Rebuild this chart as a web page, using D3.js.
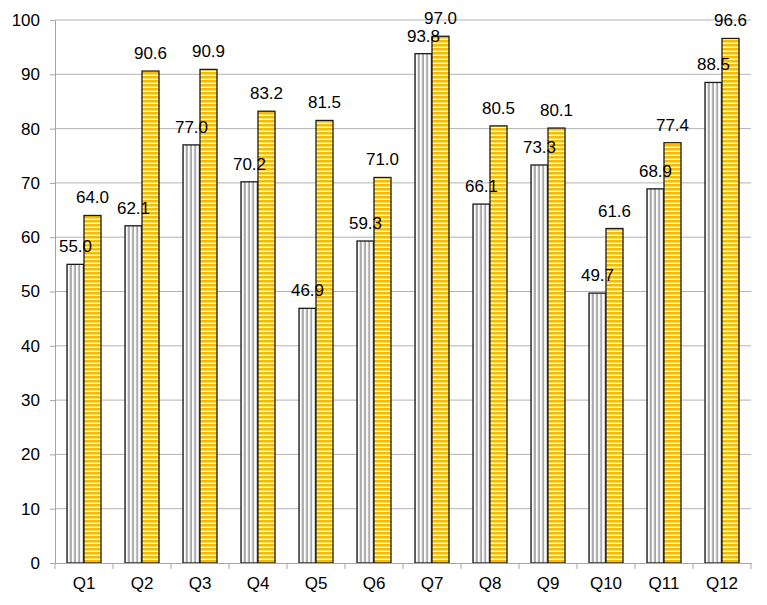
<!DOCTYPE html>
<html><head><meta charset="utf-8">
<script src="https://cdn.jsdelivr.net/npm/d3@7"></script>
<style>
body{margin:0;background:#fff;}
text{font-family:"Liberation Sans Narrow","Liberation Sans",Arial,sans-serif;fill:#000;}
</style></head>
<body>
<svg id="chart" width="767" height="605"></svg>
<script>
const categories = ["Q1","Q2","Q3","Q4","Q5","Q6","Q7","Q8","Q9","Q10","Q11","Q12"];
const seriesNames = ["A","B"];
const seriesA = [55.0,62.1,77.0,70.2,46.9,59.3,93.8,66.1,73.3,49.7,68.9,88.5];
const seriesB = [64.0,90.6,90.9,83.2,81.5,71.0,97.0,80.5,80.1,61.6,77.4,96.6];
const yTicks = [0,10,20,30,40,50,60,70,80,90,100];

(function(){
const svg = d3.select("#chart");
const mLeft = 55, mRight = 751, mTop = 20, mBottom = 563;

const defs = svg.append("defs");
const pv = defs.append("pattern").attr("id","vstripe").attr("patternUnits","userSpaceOnUse")
  .attr("width",4.2).attr("height",10);
pv.append("rect").attr("width",4.2).attr("height",10).attr("fill","#fff");
pv.append("rect").attr("x",2.2).attr("width",2).attr("height",10).attr("fill","#a6a6a6");
const ph = defs.append("pattern").attr("id","hstripe").attr("patternUnits","userSpaceOnUse")
  .attr("width",10).attr("height",4);
ph.append("rect").attr("width",10).attr("height",4).attr("fill","#fff");
ph.append("rect").attr("y",0).attr("width",10).attr("height",2.6).attr("fill","#f5bd00");

const x0 = d3.scaleBand().domain(categories).range([mLeft,mRight]).paddingInner(0).paddingOuter(0);
const x1 = d3.scaleBand().domain(seriesNames).range([0,x0.bandwidth()]).paddingInner(0).paddingOuter(0.706);
const y = d3.scaleLinear().domain([0,100]).range([mBottom,mTop]);

svg.append("g").selectAll("line").data(yTicks.filter(d=>d>0)).join("line")
  .attr("x1",mLeft).attr("x2",mRight).attr("y1",d=>y(d)).attr("y2",d=>y(d))
  .attr("stroke","#b3b3b3").attr("stroke-width",1);

const yAxis = d3.axisLeft(y).tickValues(yTicks).tickSize(5).tickPadding(10).tickFormat(d3.format("d"));
const ya = svg.append("g").attr("transform",`translate(${mLeft},0)`).call(yAxis);
ya.select(".domain").attr("stroke","#a6a6a6");
ya.selectAll(".tick line").attr("stroke","#a6a6a6");
ya.selectAll("text").attr("font-size",17).attr("font-family",null);

const groups = svg.append("g").selectAll("g").data(categories).join("g")
  .attr("transform",d=>`translate(${x0(d)},0)`);
const vals = (i)=>[{s:"A",v:seriesA[i]},{s:"B",v:seriesB[i]}];
groups.selectAll("rect").data((d,i)=>vals(i)).join("rect")
  .attr("x",d=>x1(d.s)).attr("width",x1.bandwidth())
  .attr("y",d=>y(d.v)).attr("height",d=>y(0)-y(d.v))
  .attr("fill",d=>d.s==="A"?"url(#vstripe)":"url(#hstripe)")
  .attr("stroke","#1a1a1a").attr("stroke-width",1.3);
groups.selectAll("text").data((d,i)=>vals(i)).join("text")
  .attr("x",d=>x1(d.s)+x1.bandwidth()/2).attr("y",d=>y(d.v)-12)
  .attr("text-anchor","middle").attr("font-size",17)
  .text(d=>d.v.toFixed(1));

const xAxis = d3.axisBottom(x0).tickSize(0).tickPadding(14);
const xa = svg.append("g").attr("transform",`translate(0,${mBottom})`).call(xAxis);
xa.select(".domain").attr("stroke","#a6a6a6");
xa.selectAll("text").attr("font-size",17).attr("font-family",null);
xa.append("g").selectAll("line").data(d3.range(categories.length+1)).join("line")
  .attr("x1",i=>mLeft+i*x0.step()).attr("x2",i=>mLeft+i*x0.step())
  .attr("y1",0).attr("y2",6).attr("stroke","#a6a6a6");
})();
</script>
</body></html>
